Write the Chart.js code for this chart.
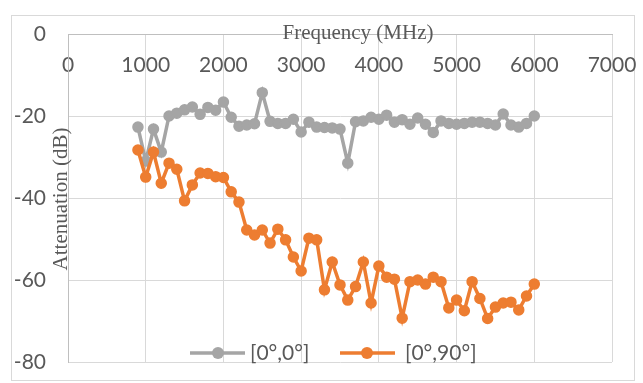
<!DOCTYPE html>
<html><head><meta charset="utf-8">
<script src="https://cdn.jsdelivr.net/npm/chart.js@4.4.1/dist/chart.umd.min.js"></script>
<style>html,body{margin:0;padding:0;background:#fff;overflow:hidden}canvas{display:block}</style>
</head><body>
<canvas id="c" width="643" height="383"></canvas>
<script>
// ---- data ----
const frequencies = [900,1000,1100,1200,1300,1400,1500,1600,1700,1800,1900,2000,2100,2200,2300,2400,2500,2600,2700,2800,2900,3000,3100,3200,3300,3400,3500,3600,3700,3800,3900,4000,4100,4200,4300,4400,4500,4600,4700,4800,4900,5000,5100,5200,5300,5400,5500,5600,5700,5800,5900,6000];
const att_0_0 = [-22.7,-31,-23.2,-28.8,-20,-19.3,-18.5,-17.8,-19.6,-17.9,-18.6,-16.6,-20.3,-22.5,-22.2,-21.9,-14.3,-21.3,-21.8,-21.8,-20.8,-23.9,-21.5,-22.7,-22.8,-22.9,-23.2,-31.5,-21.4,-21.2,-20.3,-20.8,-19.8,-21.5,-20.9,-22.0,-20.5,-22.0,-24.0,-21.2,-21.8,-22.0,-21.8,-21.5,-21.5,-21.8,-22.2,-19.5,-22.2,-22.7,-21.8,-20.0];
const att_0_90 = [-28.3,-34.9,-28.8,-36.4,-31.5,-33.0,-40.7,-36.8,-33.9,-34.0,-34.8,-35.0,-38.5,-41.0,-47.8,-49.0,-47.8,-51.0,-47.6,-50.2,-54.4,-57.8,-49.8,-50.2,-62.4,-55.6,-61.2,-64.9,-61.6,-55.6,-65.6,-56.6,-59.3,-59.8,-69.3,-60.4,-60.0,-61.0,-59.3,-60.4,-66.8,-64.9,-67.5,-60.4,-64.5,-69.4,-66.6,-65.6,-65.4,-67.3,-63.9,-61.0];
const seriesLabels = ['[0°,0°]', '[0°,90°]'];
const xTicks = [0,1000,2000,3000,4000,5000,6000,7000];
const yTicks = [0,-20,-40,-60,-80];
const xTitle = 'Frequency (MHz)';
const yTitle = 'Attenuation (dB)';

// ---- style ----
const GRAY = '#A5A5A5', ORANGE = '#ED7D31', TXT = '#595959', GRID = '#D9D9D9';
const TICKFONT = {family: 'Lato, "Open Sans", sans-serif', size: 21};
const SERIF = '21px "Liberation Serif", "DejaVu Serif", serif';

const frame = {
  id: 'frame',
  beforeDraw(chart) {
    const ctx = chart.ctx;
    ctx.save();
    ctx.strokeStyle = GRID; ctx.lineWidth = 1;
    ctx.strokeRect(11.5, 15.5, 623, 365);
    ctx.restore();
  }
};

const titles = {
  id: 'titles',
  afterDraw(chart) {
    const ctx = chart.ctx;
    ctx.save();
    ctx.fillStyle = TXT;
    ctx.font = SERIF;
    ctx.textAlign = 'center';
    ctx.textBaseline = 'middle';
    ctx.fillText(xTitle, 358, 33);
    ctx.translate(61, 199);
    ctx.rotate(-Math.PI / 2);
    ctx.fillText(yTitle, 0, 0);
    ctx.restore();
  }
};

const legendInside = {
  id: 'legendInside',
  afterDraw(chart) {
    const ctx = chart.ctx;
    const items = [
      {x0: 190, x1: 245, mx: 218, tx: 250, ds: chart.data.datasets[0]},
      {x0: 340, x1: 395, mx: 367, tx: 405, ds: chart.data.datasets[1]}
    ];
    const y = 353;
    ctx.save();
    items.forEach(it => {
      ctx.strokeStyle = it.ds.borderColor;
      ctx.lineWidth = 3.5;
      ctx.beginPath(); ctx.moveTo(it.x0, y); ctx.lineTo(it.x1, y); ctx.stroke();
      ctx.fillStyle = it.ds.borderColor;
      ctx.beginPath(); ctx.arc(it.mx, y, 6, 0, Math.PI * 2); ctx.fill();
      ctx.fillStyle = TXT;
      ctx.font = TICKFONT.size + 'px ' + TICKFONT.family;
      ctx.textAlign = 'left'; ctx.textBaseline = 'middle';
      ctx.fillText(it.ds.label, it.tx, y);
    });
    ctx.restore();
  }
};

function pts(ys) { return frequencies.map((f, i) => ({x: f, y: ys[i]})); }
function noPad(s) { s.paddingLeft = 0; s.paddingRight = 0; s.paddingTop = 0; s.paddingBottom = 0; }

new Chart(document.getElementById('c'), {
  type: 'scatter',
  data: {
    datasets: [
      {label: seriesLabels[0], data: pts(att_0_0), borderColor: GRAY, backgroundColor: GRAY,
       showLine: true, borderWidth: 3.5, pointRadius: 5, pointBorderWidth: 1.5, order: 1},
      {label: seriesLabels[1], data: pts(att_0_90), borderColor: ORANGE, backgroundColor: ORANGE,
       showLine: true, borderWidth: 3.5, pointRadius: 5, pointBorderWidth: 1.5, order: 0}
    ]
  },
  options: {
    responsive: false,
    animation: false,
    devicePixelRatio: 1,
    layout: {autoPadding: false, padding: {left: 0, top: 34, right: 31, bottom: 21}},
    plugins: {legend: {display: false}, tooltip: {enabled: false}, title: {display: false}},
    scales: {
      x: {
        type: 'linear',
        position: {y: 0},
        min: xTicks[0], max: xTicks[xTicks.length - 1],
        afterBuildTicks: s => { s.ticks = xTicks.map(v => ({value: v})); },
        afterFit: noPad,
        grid: {color: GRID, lineWidth: 1, drawTicks: false},
        border: {display: true, color: '#BFBFBF', width: 1},
        ticks: {color: TXT, font: TICKFONT, padding: 19, maxRotation: 0, callback: v => String(v)}
      },
      y: {
        type: 'linear',
        position: 'left',
        min: yTicks[yTicks.length - 1], max: yTicks[0],
        afterBuildTicks: s => { s.ticks = yTicks.slice().reverse().map(v => ({value: v})); },
        afterFit: s => { s.width = 68; noPad(s); },
        grid: {color: GRID, lineWidth: 1, drawTicks: false},
        border: {display: true, color: '#BFBFBF', width: 1},
        ticks: {color: TXT, font: TICKFONT, padding: 22, callback: v => String(v)}
      }
    }
  },
  plugins: [frame, titles, legendInside]
});
</script>
</body></html>
